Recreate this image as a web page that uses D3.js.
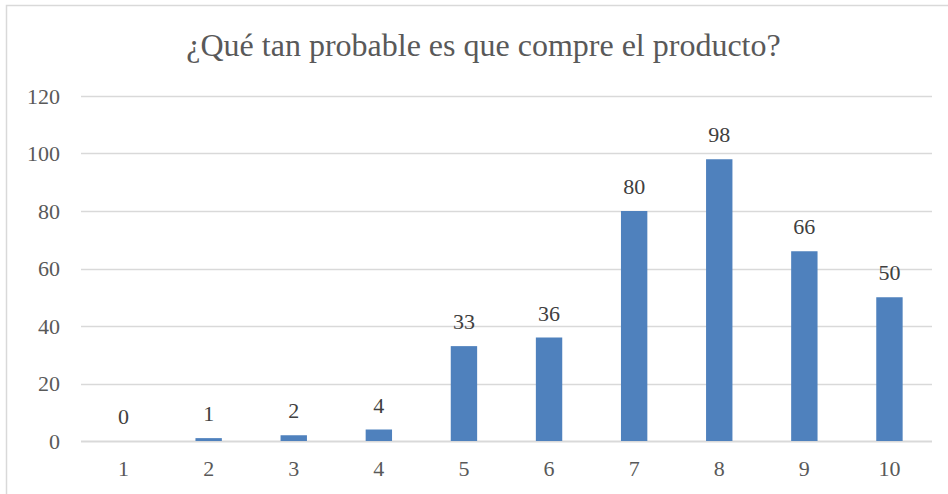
<!DOCTYPE html>
<html>
<head>
<meta charset="utf-8">
<script src="https://cdn.jsdelivr.net/npm/d3@7"></script>
<style>
  body { margin: 0; background: #fff; }
</style>
</head>
<body>
<div id="chart"></div>
<script>
const categories = ['1', '2', '3', '4', '5', '6', '7', '8', '9', '10'];
const values = [0, 1, 2, 4, 33, 36, 80, 98, 66, 50];
const yTicks = [0, 20, 40, 60, 80, 100, 120];
const title = '¿Qué tan probable es que compre el producto?';

const W = 948, H = 494;
const margin = { top: 96, right: 16, bottom: 53, left: 81 };
const width = W - margin.left - margin.right;
const height = H - margin.top - margin.bottom;

const svg = d3.select('#chart')
  .append('svg')
  .attr('width', W)
  .attr('height', H)
  .style('font-family', "'Liberation Serif', 'Times New Roman', serif");

// outer border
svg.append('rect')
  .attr('x', 6.5).attr('y', 5.5)
  .attr('width', W).attr('height', H)
  .attr('fill', 'none')
  .attr('stroke', '#d9d9d9')
  .attr('stroke-width', 1.5);

svg.append('text')
  .attr('x', 483.5).attr('y', 56)
  .attr('text-anchor', 'middle')
  .attr('font-size', 32)
  .attr('fill', '#595959')
  .text(title);

const g = svg.append('g')
  .attr('transform', `translate(${margin.left}, ${margin.top})`);

const x = d3.scaleBand()
  .domain(categories)
  .range([0, width])
  .paddingInner(0.69)
  .paddingOuter(0.345);

const y = d3.scaleLinear()
  .domain([0, 120])
  .range([height, 0]);

// gridlines
g.append('g')
  .selectAll('line')
  .data(yTicks)
  .enter().append('line')
  .attr('x1', 0).attr('x2', width)
  .attr('y1', d => Math.round(y(d)) + 0.5)
  .attr('y2', d => Math.round(y(d)) + 0.5)
  .attr('stroke', '#d9d9d9')
  .attr('stroke-width', d => d === 0 ? 2 : 1.3);

// y labels
g.append('g')
  .selectAll('text')
  .data(yTicks)
  .enter().append('text')
  .attr('x', -21)
  .attr('y', d => y(d) + 7.5)
  .attr('text-anchor', 'end')
  .attr('font-size', 22)
  .attr('fill', '#595959')
  .text(d => d);

// x labels
const xc = d => x(d) + x.bandwidth() / 2;
g.append('g')
  .selectAll('text')
  .data(categories)
  .enter().append('text')
  .attr('x', xc)
  .attr('y', height + 35)
  .attr('text-anchor', 'middle')
  .attr('font-size', 22)
  .attr('fill', '#595959')
  .text(d => d);

// bars
g.selectAll('.bar')
  .data(values)
  .enter().append('rect')
  .attr('class', 'bar')
  .attr('x', (d, i) => x(categories[i]))
  .attr('y', d => y(d))
  .attr('width', x.bandwidth())
  .attr('height', d => height - y(d))
  .attr('fill', '#4f81bd');

// data labels
g.selectAll('.lbl')
  .data(values)
  .enter().append('text')
  .attr('class', 'lbl')
  .attr('x', (d, i) => xc(categories[i]))
  .attr('y', d => y(d) - 17)
  .attr('text-anchor', 'middle')
  .attr('font-size', 22)
  .attr('fill', '#404040')
  .text(d => d);
</script>
</body>
</html>
